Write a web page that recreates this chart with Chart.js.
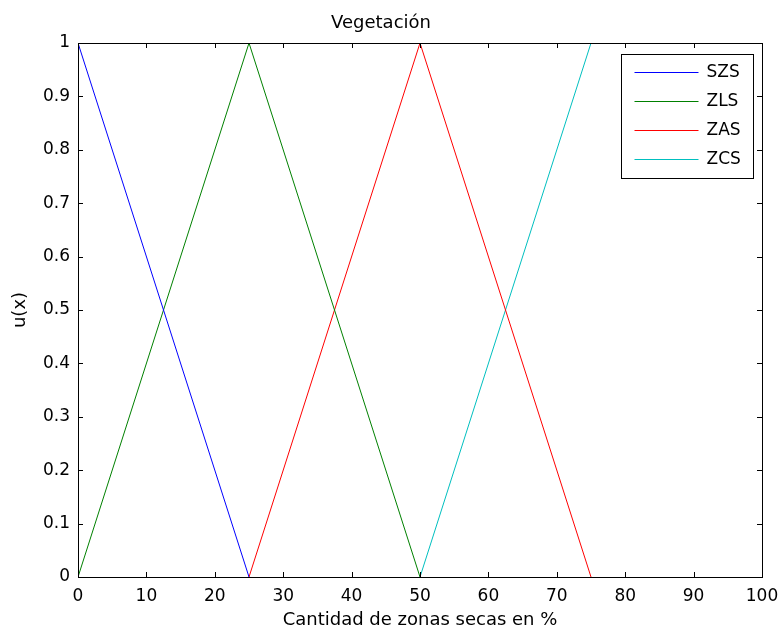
<!DOCTYPE html>
<html>
<head>
<meta charset="utf-8">
<script src="https://cdn.jsdelivr.net/npm/chart.js@4.4.1/dist/chart.umd.min.js"></script>
<style>
  html, body { margin: 0; padding: 0; background: #fff; }
  #wrap { width: 779px; height: 631px; }
</style>
</head>
<body>
<div id="wrap"><canvas id="myChart" width="779" height="631"></canvas></div>
<script>
// data
const seriesNames = ['SZS', 'ZLS', 'ZAS', 'ZCS'];
const seriesColors = ['#0000ff', '#008000', '#ff0000', '#00bfbf'];
const szsX = [0, 25];
const szsY = [1, 0];
const zlsX = [0, 25, 50];
const zlsY = [0, 1, 0];
const zasX = [25, 50, 75];
const zasY = [0, 1, 0];
const zcsX = [50, 75];
const zcsY = [0, 1];
const xTicks = [0, 10, 20, 30, 40, 50, 60, 70, 80, 90, 100];
const yTicks = [0, 0.1, 0.2, 0.3, 0.4, 0.5, 0.6, 0.7, 0.8, 0.9, 1];

const FONT = 'DejaVu Sans';

function pts(xs, ys) {
  return xs.map((x, i) => ({ x: x, y: ys[i] }));
}

const allX = [szsX, zlsX, zasX, zcsX];
const allY = [szsY, zlsY, zasY, zcsY];

const datasets = seriesNames.map((name, i) => ({
  label: name,
  data: pts(allX[i], allY[i]),
  borderColor: seriesColors[i],
  backgroundColor: seriesColors[i],
  borderWidth: 1,
  pointRadius: 0,
  showLine: true,
  tension: 0
}));

// box around the axes + inward ticks on all four sides, matlab style
const frame = {
  id: 'frame',
  afterDatasetsDraw(chart) {
    const { ctx, chartArea: a, scales } = chart;
    const len = 5;
    ctx.save();
    ctx.strokeStyle = '#000';
    ctx.lineWidth = 1;
    ctx.beginPath();
    xTicks.forEach(v => {
      const px = Math.round(scales.x.getPixelForValue(v)) + 0.5;
      ctx.moveTo(px, a.bottom); ctx.lineTo(px, a.bottom - len);
      ctx.moveTo(px, a.top); ctx.lineTo(px, a.top + len);
    });
    yTicks.forEach(v => {
      const py = Math.round(scales.y.getPixelForValue(v)) + 0.5;
      ctx.moveTo(a.left, py); ctx.lineTo(a.left + len, py);
      ctx.moveTo(a.right, py); ctx.lineTo(a.right - len, py);
    });
    ctx.stroke();
    ctx.strokeRect(Math.round(a.left) + 0.5, Math.round(a.top) + 0.5,
      Math.round(a.right - a.left), Math.round(a.bottom - a.top));
    ctx.restore();
  }
};

// legend box inside the top right corner
const boxLegend = {
  id: 'boxLegend',
  afterDraw(chart) {
    const { ctx, chartArea: a } = chart;
    const w = 132, h = 124;
    const x0 = Math.round(a.right - 9 - w) + 0.5;
    const y0 = Math.round(a.top + 11) + 0.5;
    ctx.save();
    ctx.fillStyle = '#fff';
    ctx.fillRect(x0, y0, w, h);
    ctx.strokeStyle = '#000';
    ctx.lineWidth = 1;
    ctx.strokeRect(x0, y0, w, h);
    ctx.font = '17px "' + FONT + '"';
    ctx.textBaseline = 'middle';
    ctx.textAlign = 'left';
    chart.data.datasets.forEach((ds, i) => {
      const yy = Math.round(y0 + 17 + i * 29) + 0.5;
      ctx.strokeStyle = ds.borderColor;
      ctx.beginPath();
      ctx.moveTo(x0 + 13, yy);
      ctx.lineTo(x0 + 77, yy);
      ctx.stroke();
      ctx.fillStyle = '#000';
      ctx.fillText(ds.label, x0 + 85, yy);
    });
    ctx.restore();
  }
};

new Chart(document.getElementById('myChart'), {
  type: 'scatter',
  data: { datasets: datasets },
  options: {
    responsive: false,
    animation: false,
    layout: { padding: { left: 0, right: 17, top: 0, bottom: 0 } },
    plugins: {
      legend: { display: false },
      tooltip: { enabled: false },
      title: {
        display: true,
        text: 'Vegetación',
        color: '#000',
        font: { family: FONT, size: 18, weight: 'normal' },
        padding: { top: 13, bottom: 8.4 }
      }
    },
    scales: {
      x: {
        type: 'linear',
        min: 0,
        max: 100,
        afterBuildTicks(s) { s.ticks = xTicks.map(v => ({ value: v })); },
        afterFit(s) { s.height = 54; s.paddingLeft = 0; s.paddingRight = 0; },
        grid: { display: false, drawTicks: false },
        border: { display: false },
        ticks: {
          color: '#000',
          padding: 9,
          maxRotation: 0,
          font: { family: FONT, size: 17 },
          callback: v => String(v)
        },
        title: {
          display: true,
          text: 'Cantidad de zonas secas en %',
          color: '#000',
          font: { family: FONT, size: 18 },
          padding: { top: 0, bottom: 0 }
        }
      },
      y: {
        type: 'linear',
        min: 0,
        max: 1,
        afterBuildTicks(s) { s.ticks = yTicks.map(v => ({ value: v })); },
        afterFit(s) { s.width = 78; s.paddingTop = 0; s.paddingBottom = 0; },
        grid: { display: false, drawTicks: false },
        border: { display: false },
        ticks: {
          color: '#000',
          padding: 8,
          font: { family: FONT, size: 17 },
          callback: v => String(+v.toFixed(1))
        },
        title: {
          display: true,
          text: 'u(x)',
          color: '#000',
          font: { family: FONT, size: 18 },
          padding: { top: 10, bottom: 0 }
        }
      }
    }
  },
  plugins: [frame, boxLegend]
});
</script>
</body>
</html>
